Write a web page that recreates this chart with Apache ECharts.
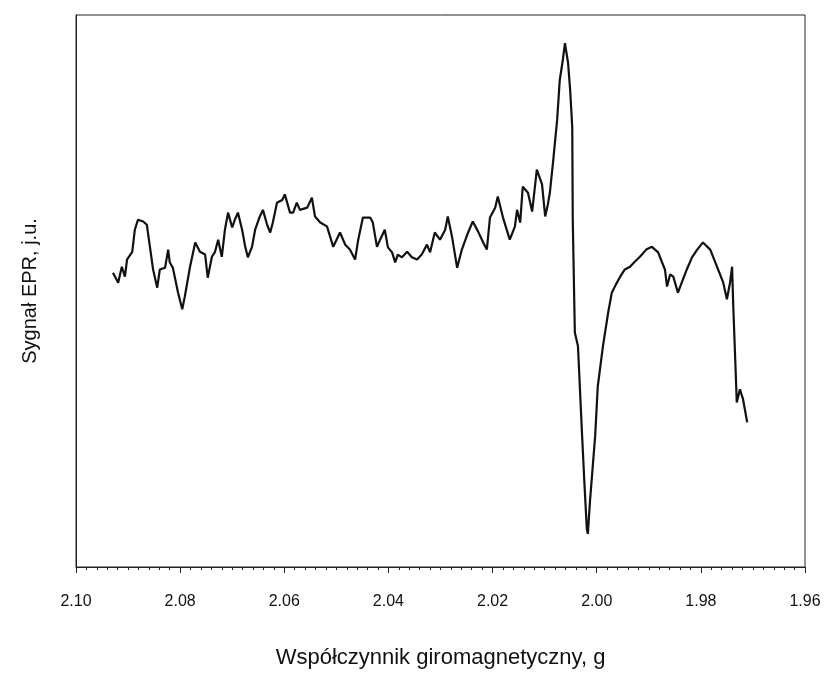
<!DOCTYPE html>
<html>
<head>
<meta charset="utf-8">
<script src="https://cdn.jsdelivr.net/npm/echarts@6/dist/echarts.min.js"></script>
<style>
  html, body { margin: 0; padding: 0; background: #fff; }
  #chart { width: 834px; height: 674px; }
</style>
</head>
<body>
<div id="chart"></div>
<script>
  // g-factor (x) and EPR signal in arbitrary units (y)
  const gValues = [
    2.0929, 2.0919, 2.0912, 2.0906, 2.0902, 2.0892, 2.0887, 2.0881, 2.0871, 2.0864,
    2.0858, 2.0852, 2.0844, 2.0839, 2.0829, 2.0823, 2.0820, 2.0814, 2.0804, 2.0796,
    2.0791, 2.0781, 2.0771, 2.0762, 2.0752, 2.0747, 2.0739, 2.0733, 2.0727, 2.0720,
    2.0714, 2.0708, 2.0700, 2.0695, 2.0689, 2.0681, 2.0675, 2.0670, 2.0662, 2.0656,
    2.0647, 2.0641, 2.0633, 2.0627, 2.0622, 2.0614, 2.0604, 2.0599, 2.0589, 2.0583,
    2.0576, 2.0570, 2.0556, 2.0547, 2.0541, 2.0531, 2.0518, 2.0506, 2.0493, 2.0483,
    2.0474, 2.0464, 2.0458, 2.0449, 2.0435, 2.0430, 2.0422, 2.0416, 2.0407, 2.0401,
    2.0393, 2.0387, 2.0382, 2.0374, 2.0364, 2.0355, 2.0345, 2.0336, 2.0326, 2.0320,
    2.0311, 2.0301, 2.0291, 2.0286, 2.0278, 2.0268, 2.0259, 2.0247, 2.0238, 2.0228,
    2.0218, 2.0211, 2.0205, 2.0195, 2.0190, 2.0180, 2.0167, 2.0157, 2.0153, 2.0147,
    2.0142, 2.0132, 2.0124, 2.0115, 2.0105, 2.0099, 2.0094, 2.0090, 2.0084, 2.0076,
    2.0071, 2.0065, 2.0061, 2.0055, 2.0051, 2.0047, 2.0046, 2.0042, 2.0036, 2.0028,
    2.0024, 2.0019, 2.0017, 2.0013, 2.0003, 1.9998, 1.9988, 1.9978, 1.9971, 1.9963,
    1.9955, 1.9946, 1.9936, 1.9927, 1.9917, 1.9905, 1.9894, 1.9882, 1.9875, 1.9869,
    1.9865, 1.9859, 1.9853, 1.9844, 1.9836, 1.9827, 1.9817, 1.9807, 1.9796, 1.9782,
    1.9769, 1.9757, 1.9750, 1.9744, 1.9740, 1.9738, 1.9734, 1.9731, 1.9725, 1.9719,
    1.9711
  ];
  const signal = [
    53.3, 51.5, 54.4, 52.6, 55.7, 57.1, 61.1, 62.9, 62.6, 62.0,
    58.0, 53.9, 50.6, 53.9, 54.2, 57.5, 55.2, 54.2, 49.7, 46.7,
    49.0, 54.4, 58.8, 57.1, 56.6, 52.4, 56.2, 57.1, 59.3, 56.2,
    61.1, 64.2, 61.5, 62.9, 64.2, 61.1, 58.0, 56.1, 58.0, 61.1,
    63.5, 64.7, 62.0, 60.6, 62.4, 66.0, 66.5, 67.5, 64.2, 64.2,
    66.0, 64.7, 65.1, 66.9, 63.5, 62.4, 61.7, 58.0, 60.6, 58.4,
    57.5, 55.7, 59.3, 63.3, 63.3, 62.4, 58.0, 59.3, 61.1, 57.9,
    57.0, 55.2, 56.6, 56.1, 57.1, 56.1, 55.7, 56.6, 58.4, 57.0,
    60.6, 59.3, 61.1, 63.5, 59.9, 54.2, 57.5, 60.6, 62.6, 60.8,
    58.8, 57.5, 63.3, 65.1, 67.1, 63.3, 59.3, 61.7, 64.7, 62.4,
    68.9, 67.8, 64.4, 72.0, 69.3, 63.5, 65.6, 67.8, 73.2, 81.0,
    88.2, 91.9, 94.9, 91.3, 86.4, 79.7, 62.9, 42.5, 40.0, 23.7,
    15.9, 6.9, 6.0, 11.8, 23.7, 32.7, 40.0, 46.1, 49.7, 51.2,
    52.6, 53.9, 54.4, 55.3, 56.2, 57.5, 58.0, 57.0, 55.3, 53.9,
    50.8, 53.0, 52.6, 49.7, 51.7, 53.9, 56.1, 57.5, 58.8, 57.5,
    54.4, 51.5, 48.5, 51.5, 54.4, 47.9, 37.6, 29.8, 32.2, 30.4,
    26.2
  ];
  const xMin = 1.96;
  const xMax = 2.10;
  const xStep = 0.02;

  const seriesData = gValues.map((g, i) => [g, signal[i]]);

  const font = 'Liberation Sans, Arial, sans-serif';
  const chart = echarts.init(document.getElementById('chart'));
  chart.setOption({
    backgroundColor: '#fff',
    animation: false,
    grid: {
      left: 76, right: 29, top: 15, bottom: 106,
      show: true,
      borderColor: '#222',
      borderWidth: 1,
      backgroundColor: 'transparent'
    },
    xAxis: {
      type: 'value',
      inverse: true,
      min: xMin,
      max: xMax,
      interval: xStep,
      name: 'Współczynnik giromagnetyczny, g',
      nameLocation: 'middle',
      nameGap: 80,
      nameTextStyle: { fontFamily: font, fontSize: 22, color: '#111' },
      axisLine: { show: true, lineStyle: { color: '#222', width: 1 } },
      axisTick: { show: true, inside: false, length: 6, lineStyle: { color: '#222' } },
      minorTick: { show: true, splitNumber: 10, length: 3, lineStyle: { color: '#222' } },
      splitLine: { show: false },
      axisLabel: {
        margin: 27,
        fontFamily: font,
        fontSize: 16,
        color: '#111',
        formatter: v => v.toFixed(2)
      }
    },
    yAxis: {
      type: 'value',
      min: 0,
      max: 100,
      name: 'Sygnał EPR, j.u.',
      nameLocation: 'middle',
      nameGap: 36,
      nameTextStyle: { fontFamily: font, fontSize: 20, color: '#111' },
      axisLine: { show: true, lineStyle: { color: '#222', width: 1 } },
      axisTick: { show: false },
      axisLabel: { show: false },
      splitLine: { show: false }
    },
    series: [{
      type: 'line',
      data: seriesData,
      showSymbol: false,
      smooth: false,
      lineStyle: { color: '#111', width: 2.2 }
    }]
  });
</script>
</body>
</html>
